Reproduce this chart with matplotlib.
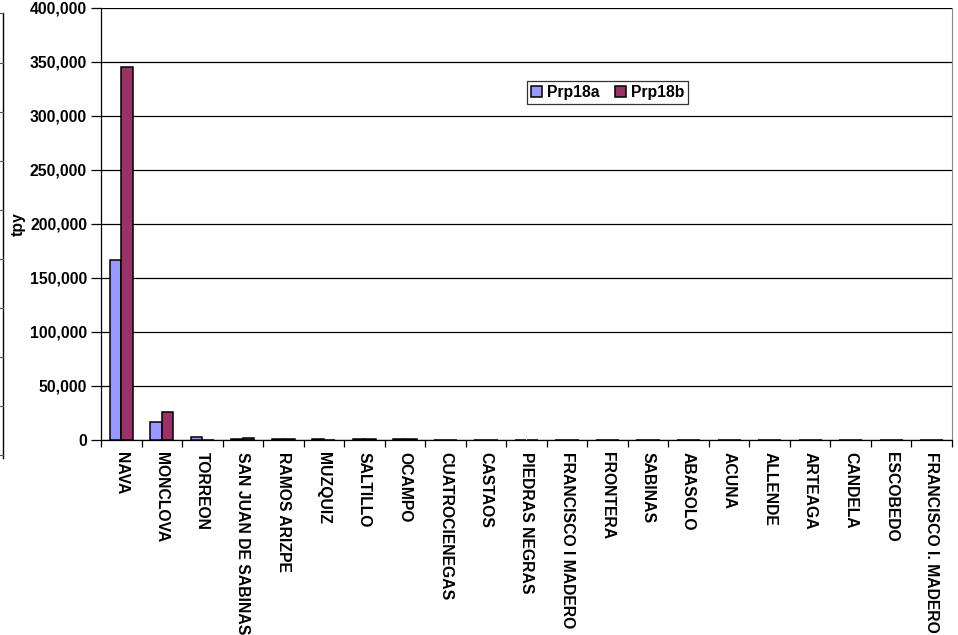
import matplotlib
matplotlib.use("Agg")
import matplotlib.pyplot as plt
import numpy as np
from matplotlib.lines import Line2D
from matplotlib.ticker import FuncFormatter, MultipleLocator

plt.rcParams['font.family'] = ['Liberation Sans', 'DejaVu Sans']

municipios = ["NAVA", "MONCLOVA", "TORREON", "SAN JUAN DE SABINAS", "RAMOS ARIZPE",
              "MUZQUIZ", "SALTILLO", "OCAMPO", "CUATROCIENEGAS", "CASTAOS",
              "PIEDRAS NEGRAS", "FRANCISCO I MADERO", "FRONTERA", "SABINAS",
              "ABASOLO", "ACUNA", "ALLENDE", "ARTEAGA", "CANDELA", "ESCOBEDO",
              "FRANCISCO I. MADERO"]
prp18a = [167000, 16400, 2800, 1200, 700, 500, 600, 600, 400, 0,
          0, 0, 0, 0, 0, 0, 0, 0, 0, 0, 0]
prp18b = [345000, 25900, 0, 2100, 900, 0, 600, 600, 0, 0,
          0, 0, 0, 0, 0, 0, 0, 0, 0, 0, 0]

FS = 11.3

fig = plt.figure(figsize=(9.58, 6.35), dpi=100)
ax = fig.add_axes([101/958, 1 - 440/635, (952 - 101)/958, (440 - 8)/635])

x = np.arange(len(municipios))
w = 1 / 3.5
ax.bar(x - w/2, prp18a, width=w, color="#9999FF", edgecolor="black", linewidth=1.1,
       label="Prp18a", zorder=3)
ax.bar(x + w/2, prp18b, width=w, color="#993366", edgecolor="black", linewidth=1.1,
       label="Prp18b", zorder=3)

ax.set_xlim(-0.5, len(municipios) - 0.5)
ax.set_ylim(0, 400000)
ax.yaxis.set_major_locator(MultipleLocator(50000))
ax.yaxis.set_major_formatter(FuncFormatter(lambda v, p: f"{int(v):,}"))
ax.yaxis.grid(True, color="black", linewidth=0.9, zorder=0)

ax.set_xticks(x)
ax.set_xticklabels(municipios, rotation=270, fontsize=FS, fontweight="bold",
                   ha="center", va="top")
ax.tick_params(axis="x", which="major", length=0, pad=9)
ax.set_xticks(np.arange(-0.5, len(municipios) + 0.5, 1), minor=True)
ax.tick_params(axis="x", which="minor", length=5, width=0.9, color="black")
ax.tick_params(axis="y", labelsize=FS, length=7, width=0.9, pad=3)
for t in ax.get_yticklabels():
    t.set_fontweight("bold")

ax.spines["top"].set_visible(False)
ax.spines["right"].set_color("#888888")
ax.spines["left"].set_linewidth(0.9)
ax.spines["bottom"].set_linewidth(0.9)

ax.set_ylabel("tpy", fontsize=FS, fontweight="bold")
ax.yaxis.set_label_coords(-0.089, 0.5)

leg = ax.legend(loc="upper left", bbox_to_anchor=((527 - 101)/851, 1 - (81 - 8)/432),
                ncol=2, frameon=True, fancybox=False, edgecolor="black",
                prop={"weight": "bold", "size": FS}, handlelength=0.7,
                handleheight=0.7, handletextpad=0.3, columnspacing=1.0,
                borderpad=0.25, borderaxespad=0)
leg.get_frame().set_linewidth(0.9)

# partial frame along the left margin
def fx(px):
    return px / 958
def fy(py):
    return 1 - py / 635
fig.add_artist(Line2D([fx(3), fx(3)], [fy(13), fy(458)], color="black", linewidth=1.0))
for py in [13, 63, 112, 161, 210, 259, 308, 357, 406, 455]:
    fig.add_artist(Line2D([fx(0), fx(3)], [fy(py), fy(py)], color="#555555", linewidth=0.8))

fig.savefig("out.png", dpi=100)
